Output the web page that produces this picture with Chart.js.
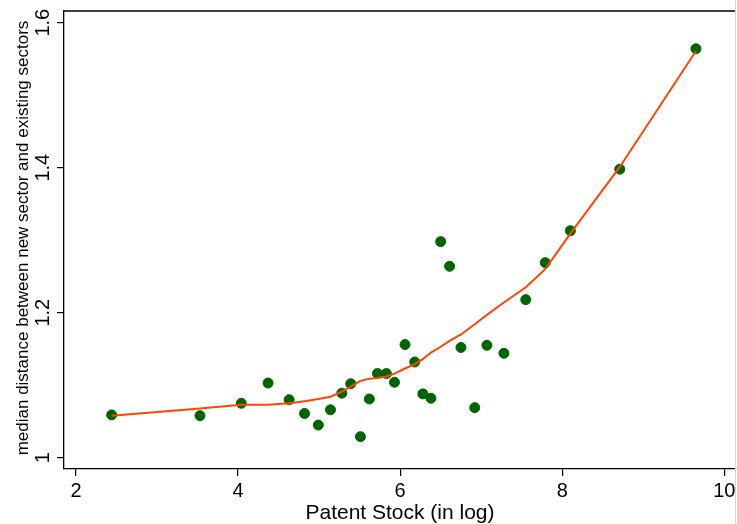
<!DOCTYPE html>
<html>
<head>
<meta charset="utf-8">
<title>Patent stock vs median distance</title>
<script src="https://cdn.jsdelivr.net/npm/chart.js@4.4.1/dist/chart.umd.min.js"></script>
<style>
  html, body { margin: 0; padding: 0; background: #fff; }
  #wrap { width: 737px; height: 524px; position: relative; }
</style>
</head>
<body>
<div id="wrap"><canvas id="distChart" width="737" height="524"></canvas></div>
<script>
'use strict';

//-----------------------
//- DATA -
//-----------------------

// patent stock (in log), one entry per sector
var patentStock = [2.44, 3.53, 4.04, 4.37, 4.63, 4.82, 4.99, 5.14, 5.28, 5.39,
                   5.51, 5.62, 5.72, 5.83, 5.93, 6.06, 6.18, 6.28, 6.38, 6.50,
                   6.61, 6.75, 6.92, 7.07, 7.28, 7.55, 7.79, 8.10, 8.71, 9.65];

// median distance between new sector and existing sectors
var medianDistance = [1.059, 1.058, 1.075, 1.103, 1.080, 1.061, 1.045, 1.066, 1.089, 1.102,
                      1.029, 1.081, 1.116, 1.116, 1.104, 1.156, 1.132, 1.088, 1.082, 1.298,
                      1.264, 1.152, 1.069, 1.155, 1.144, 1.218, 1.269, 1.313, 1.398, 1.564];

// smoothed (lowess) fit evaluated at each patent stock value
var fittedDistance = [1.058, 1.068, 1.073, 1.073, 1.075, 1.078, 1.081, 1.084, 1.091, 1.098,
                      1.106, 1.109, 1.110, 1.112, 1.116, 1.123, 1.129, 1.136, 1.145, 1.153,
                      1.161, 1.170, 1.184, 1.197, 1.214, 1.235, 1.260, 1.309, 1.401, 1.561];

var xTicks = [2, 4, 6, 8, 10];
var yTicks = [1, 1.2, 1.4, 1.6];
var yTickLabels = ['1', '1.2', '1.4', '1.6'];

var xTitle = 'Patent Stock (in log)';
var yTitle = 'median distance between new sector and existing sectors';

//-----------------------
//- CHART -
//-----------------------

var FONT = '"Liberation Sans", Arial, Helvetica, sans-serif';

var scatterPoints = patentStock.map(function (x, i) { return { x: x, y: medianDistance[i] }; });
var fitPoints = patentStock.map(function (x, i) { return { x: x, y: fittedDistance[i] }; });

// draws the tick labels, axis titles and the frame (Stata look)
var axisText = {
  id: 'axisText',
  afterDraw: function (chart) {
    var ctx = chart.ctx;
    var xs = chart.scales.x;
    var ys = chart.scales.y;
    var area = chart.chartArea;

    ctx.save();
    ctx.fillStyle = '#000';

    // top frame line
    ctx.strokeStyle = '#000';
    ctx.lineWidth = 1.3;
    ctx.beginPath();
    ctx.moveTo(area.left, area.top);
    ctx.lineTo(area.right, area.top);
    ctx.stroke();

    // faint right border of the graph region
    ctx.strokeStyle = '#d8d8d8';
    ctx.lineWidth = 1;
    ctx.beginPath();
    ctx.moveTo(735.5, 0);
    ctx.lineTo(735.5, chart.height);
    ctx.stroke();

    // y tick labels, rotated
    ctx.font = '20px ' + FONT;
    ctx.textAlign = 'center';
    ctx.textBaseline = 'alphabetic';
    yTicks.forEach(function (v, i) {
      ctx.save();
      ctx.translate(48.5, ys.getPixelForValue(v));
      ctx.rotate(-Math.PI / 2);
      ctx.fillText(yTickLabels[i], 0, 0);
      ctx.restore();
    });

    // x tick labels
    xTicks.forEach(function (v) {
      ctx.fillText(String(v), xs.getPixelForValue(v), 497);
    });

    // x title
    ctx.font = '21px ' + FONT;
    ctx.fillText(xTitle, (area.left + area.right) / 2, 519);

    // y title
    ctx.font = '17px ' + FONT;
    ctx.save();
    ctx.translate(27.5, 238);
    ctx.rotate(-Math.PI / 2);
    ctx.fillText(yTitle, 0, 0);
    ctx.restore();

    ctx.restore();
  }
};

var ctxChart = document.getElementById('distChart').getContext('2d');

new Chart(ctxChart, {
  type: 'scatter',
  data: {
    datasets: [
      {
        label: 'lowess',
        type: 'line',
        data: fitPoints,
        borderColor: '#ff4500',
        borderWidth: 2,
        pointRadius: 0,
        fill: false,
        tension: 0,
        order: 0
      },
      {
        label: 'median distance',
        data: scatterPoints,
        backgroundColor: '#006400',
        borderColor: '#006400',
        borderWidth: 1,
        pointRadius: 5,
        order: 1
      }
    ]
  },
  options: {
    responsive: false,
    animation: false,
    devicePixelRatio: 1,
    layout: { autoPadding: false, padding: { top: 11, right: 1, left: 0, bottom: 0 } },
    plugins: {
      legend: { display: false },
      tooltip: { enabled: false }
    },
    scales: {
      x: {
        type: 'linear',
        min: 1.852,
        max: 10.144,
        afterBuildTicks: function (scale) {
          scale.ticks = xTicks.map(function (v) { return { value: v }; });
        },
        afterFit: function (scale) {
          scale.height = 55;
          scale.paddingLeft = 0;
          scale.paddingRight = 0;
        },
        ticks: { display: false },
        grid: { drawOnChartArea: false, drawTicks: true, tickLength: 7, color: '#000', lineWidth: 1.2 },
        border: { display: true, color: '#000', width: 1.3 }
      },
      y: {
        type: 'linear',
        min: 0.9844,
        max: 1.6161,
        afterBuildTicks: function (scale) {
          scale.ticks = yTicks.map(function (v) { return { value: v }; });
        },
        afterFit: function (scale) {
          scale.width = 64;
          scale.paddingTop = 0;
          scale.paddingBottom = 0;
        },
        ticks: { display: false },
        grid: { drawOnChartArea: false, drawTicks: true, tickLength: 7, color: '#000', lineWidth: 1.2 },
        border: { display: true, color: '#000', width: 1.3 }
      }
    }
  },
  plugins: [axisText]
});
</script>
</body>
</html>
